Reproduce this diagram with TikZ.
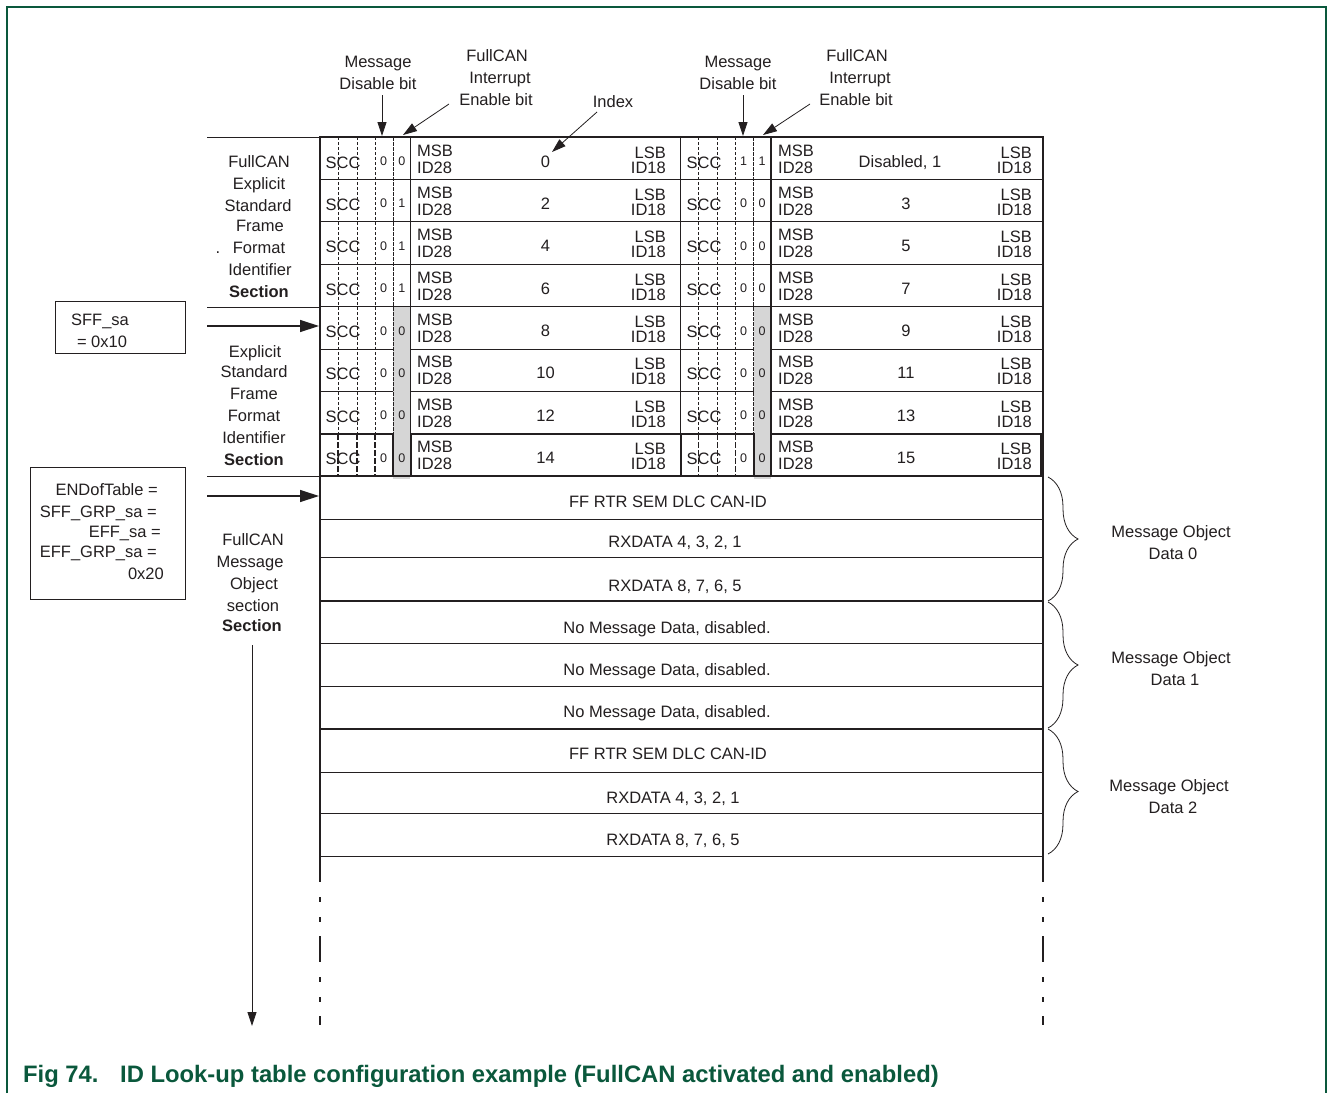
\documentclass[tikz,border=0pt]{standalone}
\usepackage{fontspec}
\setmainfont{Liberation Sans}
\usetikzlibrary{arrows.meta,decorations.pathreplacing}
\definecolor{nxpgreen}{RGB}{10,88,60}
\definecolor{cellgray}{RGB}{214,214,214}
\definecolor{ink}{RGB}{35,31,32}
\newcommand\disone{Disabled, 1}
\begin{document}
\begin{tikzpicture}[x=1pt,y=-1pt,
  lbl/.style={font=\fontsize{16.5}{20}\selectfont, inner sep=0pt, text=ink},
  bitlbl/.style={font=\fontsize{12.5}{14}\selectfont, inner sep=0pt, text=ink},
  capt/.style={font=\fontsize{23.8}{28}\selectfont\bfseries, inner sep=0pt, text=nxpgreen},
  conn/.style={draw=ink, line width=0.8pt, -{Triangle[length=14pt,width=9pt]}},
  bigconn/.style={draw=ink, line width=1.3pt, -{Triangle[length=19pt,width=12pt]}},
  rowline/.style={draw=ink, line width=1.2pt},
  boldline/.style={draw=ink, line width=2pt},
  fine/.style={draw=ink, line width=0.6pt, dash pattern=on 3pt off 2pt},
  finedense/.style={draw=ink, line width=0.7pt, dash pattern=on 4pt off 1pt},
  boldfine/.style={draw=ink, line width=1.6pt, dash pattern=on 6pt off 2pt},
  boxed/.style={draw=ink, line width=0.8pt},
  brc/.style={draw=ink, line width=0.8pt, decorate, decoration={brace, amplitude=30pt}},
  frameline/.style={draw=nxpgreen, line width=1.3pt},
]
\useasboundingbox (0,0) rectangle (1328,1093);
\fill[white] (0,0) rectangle (1328,1093);
% frame
\draw[frameline] (7,1093) -- (7,7) -- (1326,7) -- (1326,1093);

% ---------- upper table ----------
\foreach \y in {179.4,221.8,264.1,349.4,391.8,434.1}{
  \draw[rowline] (320,\y) -- (1043,\y);
}
\draw[draw=ink, line width=1.6pt] (320,306.5) -- (1043,306.5);
\fill[cellgray] (393,307) rectangle (410,479);
\fill[cellgray] (753.5,307) rectangle (771,479);
\foreach \o in {0,360.5}{
  \foreach \d in {18,37,55}{
    \draw[fine] (320+\o+\d,137) -- (320+\o+\d,434);
    \draw[boldfine] (320+\o+\d,434) -- (320+\o+\d,476);
  }
  \draw[finedense] (320+\o+73,137) -- (320+\o+73,476);
  \draw[draw=ink, line width=1.6pt] (320+\o+90.5,137) -- (320+\o+90.5,476);
  \draw[boldline] (320+\o,434) rectangle (320+\o+73,476);
  \draw[boldline] (320+\o+90.5,434) rectangle (320+\o+360.5,476);
}
\draw[draw=ink, line width=1.8pt] (680.5,137) -- (680.5,476);
\draw[boldline] (320,137) rectangle (1043,476);
% left label column separators
\draw[draw=ink, line width=0.8pt] (207,137) -- (320,137);
\draw[draw=ink, line width=0.8pt] (207,307) -- (320,307);
\draw[draw=ink, line width=0.8pt] (207,476) -- (320,476);

% cell texts
\foreach \i/\ln/\rn/\rx/\la/\lb/\ra/\rb in {0/0/\disone/900/0/0/1/1, 1/2/3/906/0/1/0/0, 2/4/5/906/0/1/0/0, 3/6/7/906/0/1/0/0, 4/8/9/906/0/0/0/0, 5/10/11/906/0/0/0/0, 6/12/13/906/0/0/0/0, 7/14/15/906/0/0/0/0}{
  \pgfmathsetmacro\T{137+42.375*\i}
  \node[lbl, anchor=base] (sccL\i) at (343,\T+31) {SCC};
  \node[bitlbl, anchor=base] (bLa\i) at (383.5,\T+28.5) {\la};
  \node[bitlbl, anchor=base] (bLb\i) at (401.8,\T+28.5) {\lb};
  \node[lbl, anchor=base west] (msbL\i) at (417,\T+19) {MSB};
  \node[lbl, anchor=base west] (idaL\i) at (417,\T+36) {ID28};
  \node[lbl, anchor=base east] (lsbL\i) at (666,\T+21) {LSB};
  \node[lbl, anchor=base east] (idbL\i) at (666,\T+36) {ID18};
  \node[lbl, anchor=base] (numL\i) at (545.5,\T+30) {\ln};
  \node[lbl, anchor=base] (sccR\i) at (704,\T+31) {SCC};
  \node[bitlbl, anchor=base] (bRa\i) at (743.5,\T+28.5) {\ra};
  \node[bitlbl, anchor=base] (bRb\i) at (762,\T+28.5) {\rb};
  \node[lbl, anchor=base west] (msbR\i) at (778,\T+19) {MSB};
  \node[lbl, anchor=base west] (idaR\i) at (778,\T+36) {ID28};
  \node[lbl, anchor=base east] (lsbR\i) at (1032,\T+21) {LSB};
  \node[lbl, anchor=base east] (idbR\i) at (1032,\T+36) {ID18};
  \node[lbl, anchor=base] (numR\i) at (\rx,\T+30) {\rn};
}

% ---------- top labels ----------
\node[lbl, anchor=base] (mdA1) at (378,67) {Message};
\node[lbl, anchor=base] (mdA2) at (378,89) {Disable bit};
\node[lbl, anchor=base] (fcA1) at (497,61) {FullCAN};
\node[lbl, anchor=base] (fcA2) at (500,83) {Interrupt};
\node[lbl, anchor=base] (fcA3) at (496,105) {Enable bit};
\node[lbl, anchor=base] (idx) at (613,107) {Index};
\node[lbl, anchor=base] (mdB1) at (738,67) {Message};
\node[lbl, anchor=base] (mdB2) at (738,89) {Disable bit};
\node[lbl, anchor=base] (fcB1) at (857,61) {FullCAN};
\node[lbl, anchor=base] (fcB2) at (860,83) {Interrupt};
\node[lbl, anchor=base] (fcB3) at (856,105) {Enable bit};
\coordinate (mdAs) at (382,95);  \coordinate (mdAt) at (382,136);
\coordinate (fcAs) at (449,104); \coordinate (fcAt) at (403,135);
\coordinate (idxs) at (597,112); \coordinate (idxt) at (552,152);
\coordinate (mdBs) at (743,95);  \coordinate (mdBt) at (743,136);
\coordinate (fcBs) at (810,104); \coordinate (fcBt) at (763,135);
\draw[conn] (mdAs) -- (mdAt);
\draw[conn] (fcAs) -- (fcAt);
\draw[conn] (idxs) -- (idxt);
\draw[conn] (mdBs) -- (mdBt);
\draw[conn] (fcBs) -- (fcBt);

% ---------- left section labels ----------
\node[lbl, anchor=base] (s1a) at (259,167) {FullCAN};
\node[lbl, anchor=base] (s1b) at (259,189) {Explicit};
\node[lbl, anchor=base] (s1c) at (258,211) {Standard};
\node[lbl, anchor=base] (s1d) at (260,231) {Frame};
\node[lbl, anchor=base] (s1dot) at (218,253) {.};
\node[lbl, anchor=base] (s1e) at (259,253) {Format};
\node[lbl, anchor=base] (s1f) at (260,275) {Identifier};
\node[lbl, anchor=base, font=\fontsize{16.5}{20}\selectfont\bfseries] (s1g) at (259,297) {Section};

\node[lbl, anchor=base] (s2a) at (255,357) {Explicit};
\node[lbl, anchor=base] (s2b) at (254,377) {Standard};
\node[lbl, anchor=base] (s2c) at (254,399) {Frame};
\node[lbl, anchor=base] (s2d) at (254,421) {Format};
\node[lbl, anchor=base] (s2e) at (254,443) {Identifier};
\node[lbl, anchor=base, font=\fontsize{16.5}{20}\selectfont\bfseries] (s2f) at (254,465) {Section};

\node[lbl, anchor=base] (s3a) at (253,545) {FullCAN};
\node[lbl, anchor=base] (s3b) at (250,567) {Message};
\node[lbl, anchor=base] (s3c) at (254,589) {Object};
\node[lbl, anchor=base] (s3d) at (253,611) {section};
\node[lbl, anchor=base, font=\fontsize{16.5}{20}\selectfont\bfseries] (s3e) at (252,631) {Section};
\coordinate (downs) at (252,645); \coordinate (downt) at (252,1026);
\draw[conn] (downs) -- (downt);

% ---------- address boxes ----------
\draw[boxed] (55,301) rectangle (185,353);
\node[lbl, anchor=base] (sff1) at (100,325) {SFF\_sa};
\node[lbl, anchor=base] (sff2) at (102,347) {= 0x10};
\draw[boxed] (30,467) rectangle (185,599);
\node[lbl, anchor=base east] (end1) at (158,495) {ENDofTable =};
\node[lbl, anchor=base east] (end2) at (157,517) {SFF\_GRP\_sa =};
\node[lbl, anchor=base east] (end3) at (161,537) {EFF\_sa =};
\node[lbl, anchor=base east] (end4) at (157,557) {EFF\_GRP\_sa =};
\node[lbl, anchor=base east] (end5) at (164,579) {0x20};
\coordinate (sffs) at (207,326); \coordinate (sfft) at (319,326);
\coordinate (ends) at (207,496); \coordinate (endt) at (319,496);
\draw[bigconn] (sffs) -- (sfft);
\draw[bigconn] (ends) -- (endt);

% ---------- lower table ----------
\foreach \y in {519,557.5,643,686,772,813}{
  \draw[draw=ink, line width=1pt] (320,\y) -- (1043,\y);
}
\draw[boldline] (320,601) -- (1043,601);
\draw[boldline] (320,729) -- (1043,729);
\draw[draw=ink, line width=1.4pt] (320,856.5) -- (1043,856.5);
\draw[draw=ink, line width=1.6pt] (320,476) -- (320,857);
\draw[draw=ink, line width=1.6pt] (1043,476) -- (1043,857);
\draw[draw=ink, line width=1.6pt, dash pattern=on 26pt off 15pt on 5pt off 15pt on 5pt off 14pt] (320,856) -- (320,1025);
\draw[draw=ink, line width=1.6pt, dash pattern=on 26pt off 15pt on 5pt off 15pt on 5pt off 14pt] (1043,856) -- (1043,1025);

\node[lbl, anchor=base] (lo1) at (668,507) {FF RTR SEM DLC CAN-ID};
\node[lbl, anchor=base] (lo2) at (675,547) {RXDATA 4, 3, 2, 1};
\node[lbl, anchor=base] (lo3) at (675,591) {RXDATA 8, 7, 6, 5};
\node[lbl, anchor=base] (lo4) at (667,633) {No Message Data, disabled.};
\node[lbl, anchor=base] (lo5) at (667,675) {No Message Data, disabled.};
\node[lbl, anchor=base] (lo6) at (667,717) {No Message Data, disabled.};
\node[lbl, anchor=base] (lo7) at (668,759) {FF RTR SEM DLC CAN-ID};
\node[lbl, anchor=base] (lo8) at (673,803) {RXDATA 4, 3, 2, 1};
\node[lbl, anchor=base] (lo9) at (673,845) {RXDATA 8, 7, 6, 5};

% braces
\draw[brc] (1048,477) -- (1048,601);
\draw[brc] (1048,602) -- (1048,728);
\draw[brc] (1048,729) -- (1048,854);
\node[lbl, anchor=base] (mo0a) at (1171,537) {Message Object};
\node[lbl, anchor=base] (mo0b) at (1173,559) {Data 0};
\node[lbl, anchor=base] (mo1a) at (1171,663) {Message Object};
\node[lbl, anchor=base] (mo1b) at (1175,685) {Data 1};
\node[lbl, anchor=base] (mo2a) at (1169,791) {Message Object};
\node[lbl, anchor=base] (mo2b) at (1173,813) {Data 2};

% caption
\node[capt, anchor=base west] (capA) at (23,1082) {Fig 74.};
\node[capt, anchor=base west] (capB) at (120,1082) {ID Look-up table configuration example (FullCAN activated and enabled)};
\end{tikzpicture}
\end{document}
